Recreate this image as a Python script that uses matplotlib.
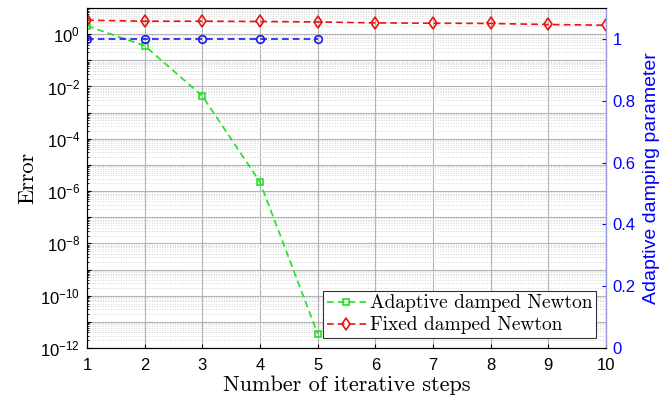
import numpy as np
import matplotlib.pyplot as plt
from matplotlib.ticker import LogLocator, FuncFormatter, NullFormatter, FixedLocator

# data
steps = [1, 2, 3, 4, 5, 6, 7, 8, 9, 10]
adaptive_steps = [1, 2, 3, 4, 5]
err_adaptive = [2.07, 0.36, 4.3e-3, 2.2e-6, 3.5e-12]
err_fixed = [3.41, 3.13, 3.13, 3.05, 2.94, 2.69, 2.62, 2.56, 2.34, 2.2]
damping = [1, 1, 1, 1, 1]

plt.rcParams['mathtext.fontset'] = 'custom'
plt.rcParams['mathtext.rm'] = 'Liberation Sans'
plt.rcParams['mathtext.it'] = 'Liberation Sans:italic'
plt.rcParams['font.family'] = 'Liberation Sans'


def logFmt(v, pos):
    e = int(round(np.log10(v)))
    if e % 2 == 0:
        return r'$10^{%d}$' % e
    return ''


def main():

    fig = plt.figure(figsize=(6.65, 4), dpi=100)
    ax = fig.add_axes([0.131, 0.13, 0.78, 0.85])

    dash = (4, 2.5)
    ax.plot(adaptive_steps, err_adaptive, linestyle='--', dashes=dash, color='#22e022', marker='s', markersize=4.5,
            markerfacecolor='none', markeredgewidth=1.2, linewidth=1.2, label='Adaptive damped Newton', zorder=5)
    ax.plot(steps, err_fixed, linestyle='--', dashes=dash, color='#ee1111', marker='d', markersize=6,
            markerfacecolor='none', markeredgewidth=1.2, linewidth=1.2, label='Fixed damped Newton', zorder=5)

    ax.set_yscale('log')
    ax.set_ylim(1e-12, 1e1)
    ax.set_xlim(1, 10)
    ax.set_xticks(steps)
    ax.yaxis.set_major_locator(FixedLocator([10.0**k for k in range(-12, 2)]))
    ax.yaxis.set_major_formatter(FuncFormatter(logFmt))
    ax.yaxis.set_minor_locator(LogLocator(base=10, subs=np.arange(2, 10), numticks=100))
    ax.yaxis.set_minor_formatter(NullFormatter())

    ax.grid(which='major', color='#b4b4b4', linewidth=0.8)
    ax.grid(which='minor', axis='y', color='#d4d4d4', linestyle=':', linewidth=0.7)
    ax.tick_params(which='both', direction='in', labelsize=12, length=3)
    ax.tick_params(axis='x', pad=7)
    ax.tick_params(axis='y', pad=5)
    ax.tick_params(which='minor', length=1.5)
    for s in ['left', 'bottom', 'top']:
        ax.spines[s].set_color('#555555')

    ax.set_xlabel('Number of iterative steps', fontfamily='cmr10', fontsize=16, labelpad=2)
    ax.set_ylabel('Error', fontfamily='cmr10', fontsize=16, labelpad=2)

    ax2 = ax.twinx()
    ax2.plot(adaptive_steps, damping, linestyle='--', dashes=dash, color='#1a1aee', marker='o', markersize=5.5,
             markerfacecolor='none', markeredgewidth=1.2, linewidth=1.2)
    ax2.set_ylim(0, 1.1)
    ax2.set_yticks([0, 0.2, 0.4, 0.6, 0.8, 1])
    ax2.set_yticklabels(['0', '0.2', '0.4', '0.6', '0.8', '1'])
    ax2.tick_params(direction='in', labelsize=12, colors='#0000ff', length=3, pad=5)
    ax2.spines['right'].set_color('#9999dd')
    ax2.set_ylabel('Adaptive damping parameter', color='#0000ff', fontsize=14, labelpad=5)

    leg = ax.legend(loc='lower right', prop={'family': 'cmr10', 'size': 14}, fancybox=False,
                    framealpha=1, edgecolor='#333333', handlelength=2.0, handletextpad=0.2,
                    borderpad=0.2, labelspacing=0.2, borderaxespad=0.5)
    leg.get_frame().set_linewidth(0.8)
    leg.set_zorder(10)

    fig.savefig('out.png', dpi=100)


if __name__ == "__main__":
    main()
